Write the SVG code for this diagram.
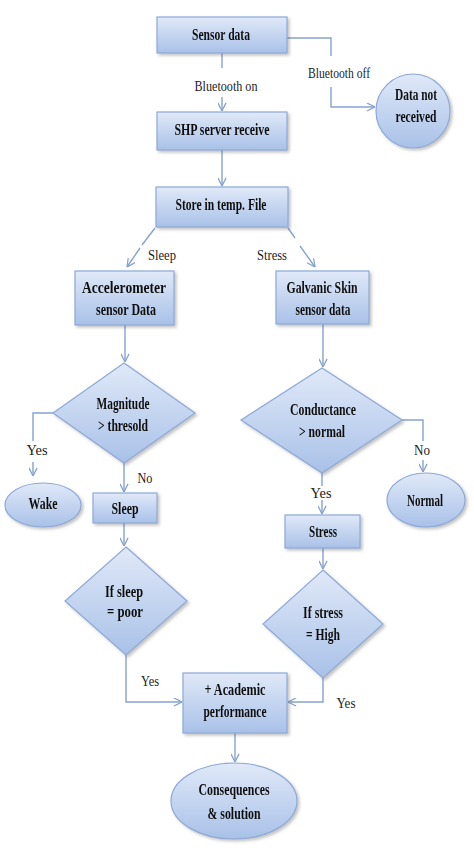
<svg xmlns="http://www.w3.org/2000/svg" width="474" height="868" viewBox="0 0 474 868">
<style>
.n{stroke:#8ea9d6;stroke-width:1.2;fill:url(#g)}
.c{fill:none;stroke:#86a2d0;stroke-width:1.4}
.t{font-family:"Liberation Serif","Times New Roman",serif;font-weight:bold;font-size:16px;fill:#111;text-anchor:middle}
.l{font-family:"Liberation Serif","Times New Roman",serif;font-size:15.5px;fill:#222;text-anchor:middle}
</style>
<defs>
<linearGradient id="g" x1="0" y1="0" x2="0" y2="1">
<stop offset="0" stop-color="#e0e9f8"/>
<stop offset="1" stop-color="#a9c1e8"/>
</linearGradient>
<filter id="s" x="-10%" y="-10%" width="130%" height="130%">
<feDropShadow dx="2" dy="2" stdDeviation="1.5" flood-color="#555" flood-opacity="0.35"/>
</filter>
<marker id="a" viewBox="0 0 10 10" refX="10" refY="5" markerWidth="9" markerHeight="9" markerUnits="userSpaceOnUse" orient="auto">
<path d="M1,0.5 L10,5 L1,9.5" fill="none" stroke="#86a2d0" stroke-width="1.4"/>
</marker>
</defs>

<g id="connectors">
<line class="c" x1="222" y1="53" x2="222" y2="68"/>
<line class="c" x1="222" y1="97" x2="222" y2="111" marker-end="url(#a)"/>
<polyline class="c" points="287,38 331,38 331,56"/>
<polyline class="c" points="331,87 331,107 375,107" marker-end="url(#a)"/>
<line class="c" x1="222" y1="150" x2="222" y2="186" marker-end="url(#a)"/>
<line class="c" x1="155" y1="228" x2="142" y2="245"/>
<line class="c" x1="140" y1="248" x2="127" y2="267" marker-end="url(#a)"/>
<line class="c" x1="288" y1="228" x2="295" y2="238"/>
<line class="c" x1="300" y1="246" x2="315" y2="267" marker-end="url(#a)"/>
<line class="c" x1="125" y1="325" x2="125" y2="362" marker-end="url(#a)"/>
<polyline class="c" points="53,413 33,413 33,441"/>
<line class="c" x1="33" y1="462" x2="33" y2="476" marker-end="url(#a)"/>
<line class="c" x1="124" y1="463" x2="124" y2="492" marker-end="url(#a)"/>
<line class="c" x1="124" y1="523" x2="124" y2="546" marker-end="url(#a)"/>
<polyline class="c" points="126,655 126,702 182,702" marker-end="url(#a)"/>
<line class="c" x1="323" y1="324" x2="323" y2="367" marker-end="url(#a)"/>
<polyline class="c" points="402,420 423,420 423,441"/>
<line class="c" x1="423" y1="460" x2="423" y2="472" marker-end="url(#a)"/>
<line class="c" x1="322" y1="473" x2="322" y2="486"/>
<line class="c" x1="322" y1="500" x2="322" y2="514" marker-end="url(#a)"/>
<line class="c" x1="323" y1="548" x2="323" y2="569" marker-end="url(#a)"/>
<polyline class="c" points="323,678 323,702 288,702" marker-end="url(#a)"/>
<line class="c" x1="235" y1="733" x2="235" y2="762" marker-end="url(#a)"/>
</g>

<g id="labels">
<text class="l" x="226" y="91" textLength="63" lengthAdjust="spacingAndGlyphs">Bluetooth on</text>
<text class="l" x="339" y="78" textLength="62" lengthAdjust="spacingAndGlyphs">Bluetooth off</text>
<text class="l" x="162" y="260" textLength="28" lengthAdjust="spacingAndGlyphs">Sleep</text>
<text class="l" x="272" y="260" textLength="30" lengthAdjust="spacingAndGlyphs">Stress</text>
<text class="l" x="37" y="455" textLength="21" lengthAdjust="spacingAndGlyphs">Yes</text>
<text class="l" x="145" y="483" textLength="15" lengthAdjust="spacingAndGlyphs">No</text>
<text class="l" x="422" y="455" textLength="16" lengthAdjust="spacingAndGlyphs">No</text>
<text class="l" x="321" y="498" textLength="21" lengthAdjust="spacingAndGlyphs">Yes</text>
<text class="l" x="150" y="686" textLength="18" lengthAdjust="spacingAndGlyphs">Yes</text>
<text class="l" x="346" y="708" textLength="19" lengthAdjust="spacingAndGlyphs">Yes</text>
</g>

<g id="sensor-data" filter="url(#s)">
<rect class="n" x="157" y="17" width="130" height="36"/>
<text class="t" x="221" y="40" textLength="58" lengthAdjust="spacingAndGlyphs">Sensor data</text>
</g>
<g id="data-not-received" filter="url(#s)">
<circle class="n" cx="413" cy="111" r="37"/>
<text class="t" x="416" y="100" textLength="42" lengthAdjust="spacingAndGlyphs">Data not</text>
<text class="t" x="416" y="122" textLength="41" lengthAdjust="spacingAndGlyphs">received</text>
</g>
<g id="shp-server" filter="url(#s)">
<rect class="n" x="157" y="112" width="130" height="38"/>
<text class="t" x="222" y="135" textLength="95" lengthAdjust="spacingAndGlyphs">SHP server receive</text>
</g>
<g id="store-temp" filter="url(#s)">
<rect class="n" x="156" y="187" width="132" height="40"/>
<text class="t" x="221" y="210" textLength="91" lengthAdjust="spacingAndGlyphs">Store in temp. File</text>
</g>
<g id="accelerometer" filter="url(#s)">
<rect class="n" x="75" y="271" width="99" height="54"/>
<text class="t" x="124" y="293" textLength="84" lengthAdjust="spacingAndGlyphs">Accelerometer</text>
<text class="t" x="126" y="315" textLength="60" lengthAdjust="spacingAndGlyphs">sensor Data</text>
</g>
<g id="galvanic" filter="url(#s)">
<rect class="n" x="276" y="271" width="93" height="53"/>
<text class="t" x="322" y="293" textLength="71" lengthAdjust="spacingAndGlyphs">Galvanic Skin</text>
<text class="t" x="323" y="315" textLength="55" lengthAdjust="spacingAndGlyphs">sensor data</text>
</g>
<g id="magnitude" filter="url(#s)">
<polygon class="n" points="124,363 195,413 124,463 53,413"/>
<text class="t" x="123" y="409" textLength="53" lengthAdjust="spacingAndGlyphs">Magnitude</text>
<text class="t" x="123" y="431" textLength="50" lengthAdjust="spacingAndGlyphs">&gt; thresold</text>
</g>
<g id="wake" filter="url(#s)">
<ellipse class="n" cx="43" cy="505" rx="38" ry="22"/>
<text class="t" x="43" y="509" textLength="29" lengthAdjust="spacingAndGlyphs">Wake</text>
</g>
<g id="sleep" filter="url(#s)">
<rect class="n" x="93" y="493" width="64" height="30"/>
<text class="t" x="125" y="514" textLength="27" lengthAdjust="spacingAndGlyphs">Sleep</text>
</g>
<g id="conductance" filter="url(#s)">
<polygon class="n" points="322,368 402,420 322,473 241,420"/>
<text class="t" x="323" y="415" textLength="66" lengthAdjust="spacingAndGlyphs">Conductance</text>
<text class="t" x="322" y="437" textLength="46" lengthAdjust="spacingAndGlyphs">&gt; normal</text>
</g>
<g id="normal" filter="url(#s)">
<ellipse class="n" cx="426" cy="500" rx="39" ry="27"/>
<text class="t" x="425" y="506" textLength="36" lengthAdjust="spacingAndGlyphs">Normal</text>
</g>
<g id="stress" filter="url(#s)">
<rect class="n" x="285" y="515" width="75" height="33"/>
<text class="t" x="323" y="537" textLength="28" lengthAdjust="spacingAndGlyphs">Stress</text>
</g>
<g id="if-sleep" filter="url(#s)">
<polygon class="n" points="126,547 187,601 126,655 65,601"/>
<text class="t" x="124" y="597" textLength="38" lengthAdjust="spacingAndGlyphs">If sleep</text>
<text class="t" x="125" y="617" textLength="36" lengthAdjust="spacingAndGlyphs">= poor</text>
</g>
<g id="if-stress" filter="url(#s)">
<polygon class="n" points="323,570 383,624 323,678 263,624"/>
<text class="t" x="323" y="618" textLength="40" lengthAdjust="spacingAndGlyphs">If stress</text>
<text class="t" x="323" y="640" textLength="34" lengthAdjust="spacingAndGlyphs">= High</text>
</g>
<g id="academic" filter="url(#s)">
<rect class="n" x="183" y="673" width="104" height="60"/>
<text class="t" x="235" y="695" textLength="61" lengthAdjust="spacingAndGlyphs">+ Academic</text>
<text class="t" x="235" y="717" textLength="63" lengthAdjust="spacingAndGlyphs">performance</text>
</g>
<g id="consequences" filter="url(#s)">
<ellipse class="n" cx="234" cy="801" rx="63" ry="38"/>
<text class="t" x="234" y="795" textLength="71" lengthAdjust="spacingAndGlyphs">Consequences</text>
<text class="t" x="234" y="819" textLength="53" lengthAdjust="spacingAndGlyphs">&amp; solution</text>
</g>
</svg>
